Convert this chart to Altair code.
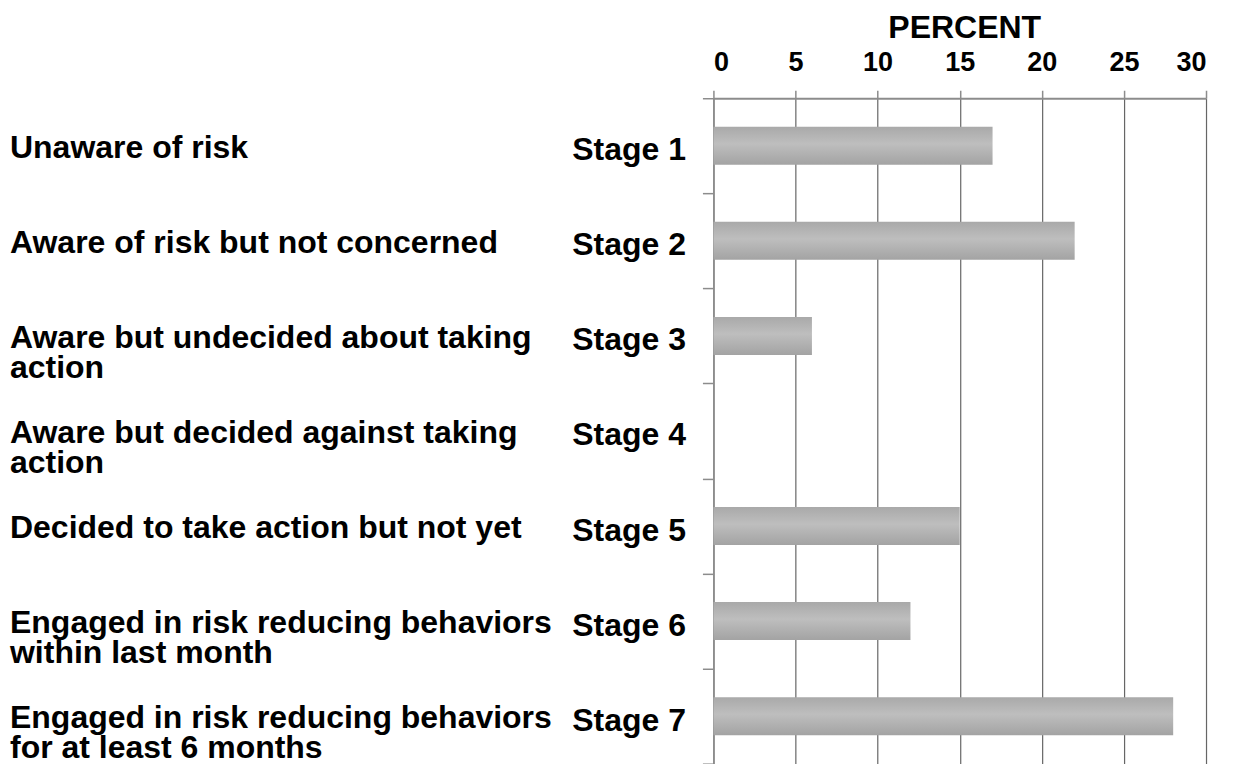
import altair as alt
import pandas as pd

# ---- data ----
stages = ["Stage 1", "Stage 2", "Stage 3", "Stage 4", "Stage 5", "Stage 6", "Stage 7"]
desc_line1 = [
    "Unaware of risk",
    "Aware of risk but not concerned",
    "Aware but undecided about taking",
    "Aware but decided against taking",
    "Decided to take action but not yet",
    "Engaged in risk reducing behaviors",
    "Engaged in risk reducing behaviors",
]
desc_line2 = ["", "", "action", "action", "", "within last month", "for at least 6 months"]
percent = [17, 22, 6, 0, 15, 12, 28]
x_ticks = [0, 5, 10, 15, 20, 25, 30]
x_title = "PERCENT"

df = pd.DataFrame({
    "stage": stages,
    "line1": desc_line1,
    "line2": desc_line2,
    "percent": percent,
})

FONT = "Liberation Sans"
GRID = "#666666"
AXIS = "#8c8c8c"

y_enc = alt.Y(
    "stage:N",
    sort=stages,
    scale=alt.Scale(paddingInner=0, paddingOuter=0),
    axis=alt.Axis(
        title=None,
        orient="left",
        tickBand="extent",
        tickSize=11,
        tickColor=AXIS,
        tickWidth=1.5,
        domainColor=AXIS,
        domainWidth=1.5,
        labelFont=FONT,
        labelFontSize=32,
        labelFontWeight="bold",
        labelColor="#000000",
        labelAlign="right",
        labelBaseline="alphabetic",
        labelOffset=14,
        labelPadding=17,
        grid=False,
    ),
)

bar_fill = alt.Gradient(
    gradient="linear",
    stops=[
        alt.GradientStop(color="#a9a9a9", offset=0),
        alt.GradientStop(color="#bebebe", offset=0.45),
        alt.GradientStop(color="#a3a3a3", offset=1),
    ],
    x1=0, x2=0, y1=0, y2=1,
)

bars = alt.Chart(df).mark_bar(color=bar_fill, size=38).encode(
    x=alt.X(
        "percent:Q",
        scale=alt.Scale(domain=[0, 30], nice=False, zero=True),
        axis=alt.Axis(
            orient="top",
            values=x_ticks,
            format="d",
            title=x_title,
            titleFont=FONT,
            titleFontSize=32,
            titleFontWeight="bold",
            titleColor="#000000",
            titleAlign="center",
            titleBaseline="alphabetic",
            titleX=251,
            titleY=-61,
            labelFont=FONT,
            labelFontSize=27,
            labelFontWeight="bold",
            labelColor="#000000",
            labelBaseline="alphabetic",
            labelPadding=20,
            tickSize=8,
            tickColor=AXIS,
            tickWidth=1.5,
            domainColor=AXIS,
            domainWidth=2,
            grid=True,
            gridColor=GRID,
            gridWidth=1.2,
        ),
    ),
    y=y_enc,
)

text_common = dict(align="left", baseline="alphabetic", font=FONT, fontSize=32,
                   fontWeight="bold", color="#000000")

t1 = alt.Chart(df).mark_text(dy=12, **text_common).encode(
    x=alt.value(-704), y=y_enc, text="line1:N"
)
t2 = alt.Chart(df).mark_text(dy=42, **text_common).encode(
    x=alt.value(-704), y=y_enc, text="line2:N"
)

chart = (
    alt.layer(bars, t1, t2)
    .properties(
        width=493,
        height=666,
        autosize=alt.AutoSizeParams(type="none"),
        padding={"left": 706, "top": 90, "right": 20, "bottom": 0},
        background="white",
    )
    .configure_view(stroke=None)
)

chart.save("out.html", embed_options={"renderer": "svg", "actions": False})
